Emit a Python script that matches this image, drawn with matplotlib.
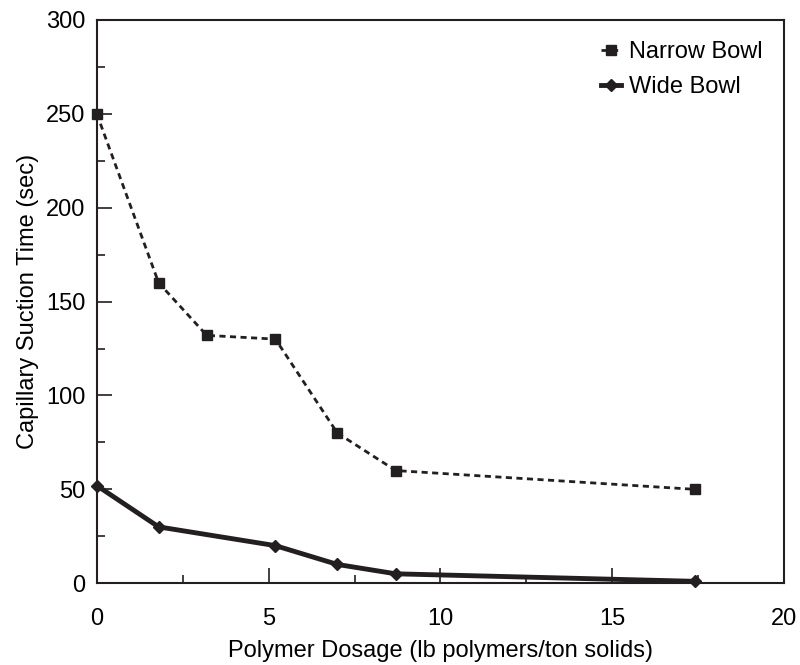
import numpy as np
import matplotlib.pyplot as plt
from matplotlib.ticker import MultipleLocator

plt.rcParams['font.family'] = ['Liberation Sans', 'DejaVu Sans']

narrow_x = [0, 1.8, 3.2, 5.2, 7.0, 8.7, 17.4]
narrow_y = [250, 160, 132, 130, 80, 60, 50]
wide_x = [0, 1.8, 5.2, 7.0, 8.7, 17.4]
wide_y = [52, 30, 20, 10, 5, 1]

ink = '#231f20'

fig = plt.figure(figsize=(8, 6.65), dpi=100)
ax = fig.add_axes([0.121, 0.123, 0.859, 0.847])

ax.plot(narrow_x, narrow_y, color=ink, lw=2, ls=(0, (2.2, 1.6)),
        marker='s', ms=7.5, label='Narrow Bowl', clip_on=False)
ax.plot(wide_x, wide_y, color=ink, lw=3.5, ls='-',
        marker='D', ms=6.5, label='Wide Bowl', clip_on=False)

ax.set_xlim(0, 20)
ax.set_ylim(0, 300)
ax.xaxis.set_major_locator(MultipleLocator(5))
ax.xaxis.set_minor_locator(MultipleLocator(2.5))
ax.yaxis.set_major_locator(MultipleLocator(50))
ax.yaxis.set_minor_locator(MultipleLocator(25))
ax.tick_params(which='both', direction='in', colors=ink, labelcolor='black',
               labelsize=17, width=1.2)
ax.tick_params(which='major', length=10.5)
ax.tick_params(which='minor', length=6)
ax.tick_params(axis='x', which='major', pad=18)
ax.tick_params(axis='y', which='major', pad=8)
for s in ax.spines.values():
    s.set_color(ink)
    s.set_linewidth(1.5)

ax.set_xlabel('Polymer Dosage (lb polymers/ton solids)', fontsize=17, labelpad=7)
ax.set_ylabel('Capillary Suction Time (sec)', fontsize=17, labelpad=5)

leg = ax.legend(loc='upper right', frameon=False, fontsize=17, handlelength=0.85,
                handletextpad=0.35, labelspacing=0.55)

plt.savefig('out.png', dpi=100)
